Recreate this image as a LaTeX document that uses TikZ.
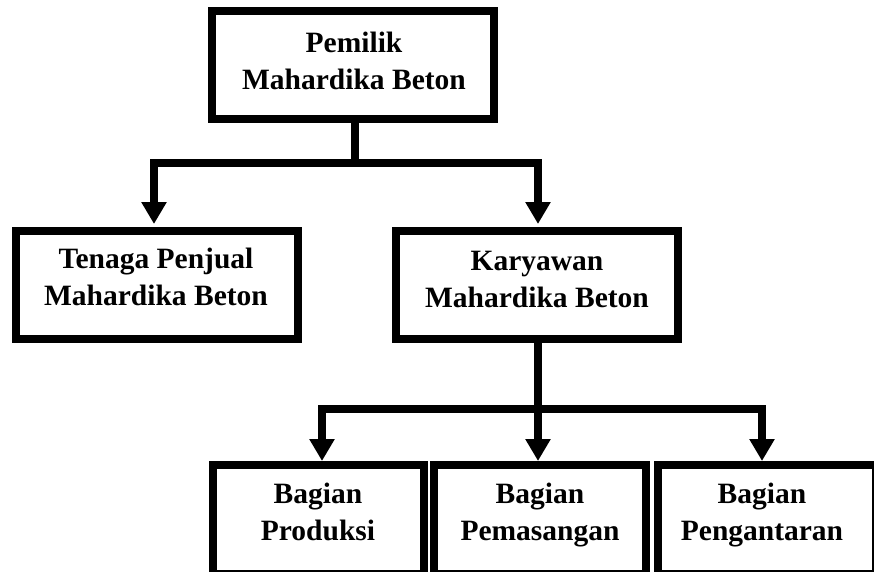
\documentclass[tikz,border=0pt]{standalone}
\usepackage{fontspec}
\setmainfont{Liberation Serif}
\usetikzlibrary{arrows.meta,calc}
\newcommand{\ph}{\vphantom{Agl}}
\begin{document}
\begin{tikzpicture}[x=1pt,y=-1pt,
  boxnode/.style={draw=black,line width=8pt,fill=white,rectangle,inner sep=0pt},
  txt/.style={align=center,font=\fontsize{29.5}{36.5}\selectfont\bfseries,inner sep=0pt},
  conn/.style={line width=7.5pt,draw=black},
  arr/.style={line width=7.5pt,draw=black,-{Triangle[width=24pt,length=22pt]}}]
\useasboundingbox (0,0) rectangle (874,571);
\fill[white] (0,0) rectangle (874,571);
\begin{scope}
\clip (0,0) rectangle (874,571);
% boxes
\node[boxnode,minimum width=282pt,minimum height=108pt] (top) at (353,65) {};
\node[boxnode,minimum width=282pt,minimum height=108pt] (left) at (157,285) {};
\node[boxnode,minimum width=282pt,minimum height=108pt] (right) at (537,285) {};
\node[boxnode,minimum width=211pt,minimum height=109pt] (b1) at (318,519.5) {};
\node[boxnode,minimum width=212pt,minimum height=109pt] (b2) at (540,519.5) {};
\node[boxnode,minimum width=218pt,minimum height=109pt] (b3) at (767,519.5) {};
% texts
\node[txt] (ttop) at (354,64) {Pemilik\ph\\Mahardika Beton\ph};
\node[txt] (tleft) at (156,280) {Tenaga Penjual\ph\\Mahardika Beton\ph};
\node[txt] (tright) at (537,282) {Karyawan\ph\\Mahardika Beton\ph};
\node[txt] (tb1) at (318,515) {Bagian\ph\\Produksi\ph};
\node[txt] (tb2) at (540,515) {Bagian\ph\\Pemasangan\ph};
\node[txt] (tb3) at (762,515) {Bagian\ph\\Pengantaran\ph};
% connectors
\coordinate (j1) at (355,163);
\coordinate (j2) at (538,409);
\coordinate (a1) at (322,461);
\coordinate (a2) at (538,461);
\coordinate (a3) at (762,461);
\draw[conn] (top.south -| j1) -- (j1);
\draw[arr] (j1) -| ($(left.north)+(-3,-3)$);
\draw[arr] (j1) -| ($(right.north)+(1,-3)$);
\draw[conn] (right.south -| j2) -- (j2);
\draw[arr] (j2) -| (a1);
\draw[arr] (j2) -- (a2);
\draw[arr] (j2) -| (a3);
\end{scope}
\end{tikzpicture}
\end{document}
